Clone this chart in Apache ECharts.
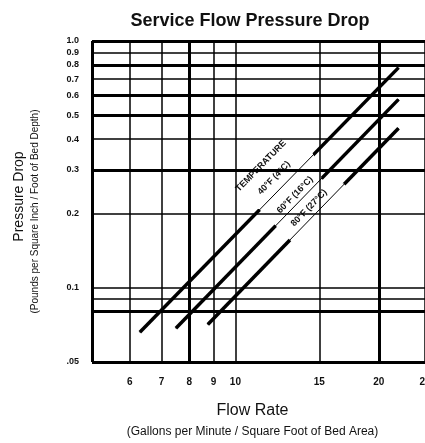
<!DOCTYPE html>
<html><head><meta charset="utf-8">
<script src="https://cdn.jsdelivr.net/npm/echarts@6/dist/echarts.min.js"></script>
<style>html,body{margin:0;padding:0;background:#fff}#c{width:425px;height:443px}</style>
</head><body><div id="c"></div>
<script>
// ---- data ----
const flowTicks = [6, 7, 8, 9, 10, 15, 20, 25];
const flowTickLabels = ['6', '7', '8', '9', '10', '15', '20', '25'];
const pressureTicks = [1.0, 0.9, 0.8, 0.7, 0.6, 0.5, 0.4, 0.3, 0.2, 0.1, 0.05];
const pressureTickLabels = ['1.0', '0.9', '0.8', '0.7', '0.6', '0.5', '0.4', '0.3', '0.2', '0.1', '.05'];
const flowGrid = [5, 6, 7, 8, 9, 10, 15, 20, 25];
const pressureGrid = [1.0, 0.9, 0.8, 0.7, 0.6, 0.5, 0.4, 0.3, 0.2, 0.1, 0.09, 0.08, 0.05];
const temp40 = [[6.3, 0.066], [22.0, 0.78]];
const temp60 = [[7.5, 0.0685], [22.0, 0.58]];
const temp80 = [[8.75, 0.071], [22.0, 0.443]];
const seriesLabels = ['TEMPERATURE', '40°F (4°C)', '60°F (16°C)', '80°F (27°C)'];

// ---- styles ----
const heavyX = new Set([5, 8, 20]);
const heavyY = new Set([1.0, 0.8, 0.6, 0.5, 0.3, 0.08, 0.05]);
const FONT = '"Liberation Sans", Arial, sans-serif';
const INK = '#111';

const chart = echarts.init(document.getElementById('c'), null, {renderer: 'canvas'});

const xLines = flowGrid.map(v => {
  const i = flowTicks.indexOf(v);
  return {
    xAxis: v,
    lineStyle: {color: '#000', type: 'solid', width: heavyX.has(v) ? 3 : 1.5},
    label: i >= 0 ? {show: true, position: 'start', formatter: flowTickLabels[i], distance: 15,
      color: INK, fontSize: 10, fontWeight: 'bold', fontFamily: FONT} : {show: false}
  };
});
const yLines = pressureGrid.map(v => {
  const i = pressureTicks.indexOf(v);
  return {
    yAxis: v,
    lineStyle: {color: '#000', type: 'solid', width: heavyY.has(v) ? 3 : 1.5},
    label: i >= 0 ? {show: true, position: 'start', formatter: pressureTickLabels[i], distance: 13,
      color: INK, fontSize: 9, fontWeight: 'bold', fontFamily: FONT} : {show: false}
  };
});

function lineSeries(data, width, z) {
  return {type: 'line', data: data, symbol: 'none', silent: true, z: z,
    lineStyle: {color: '#000', width: width, cap: 'butt'}, animation: false};
}

// white label panel, corners in rotated pixel space (s = x - y, t = x + y)
const boxST = [[30, 408], [165, 408], [165, 445], [157, 474], [143, 500], [143, 518], [160, 526],
  [160, 538], [50, 538], [50, 468], [30, 445]];
const boxPts = boxST.map(([s, t]) => [(s + t) / 2, (t - s) / 2]);
const ang = Math.atan(1.027);
const labelPos = [[261, 166], [274, 178], [295, 195], [309, 208]];

chart.setOption({
  animation: false,
  title: {text: 'Service Flow Pressure Drop', left: 245, top: 7, textAlign: 'center',
    textStyle: {fontFamily: FONT, fontSize: 18, fontWeight: 'bold', color: INK}},
  grid: {left: 92, top: 41, width: 334, height: 322, show: false},
  xAxis: {type: 'log', min: 5, max: 25, logBase: 10,
    name: '{a|Flow Rate}\n{b|(Gallons per Minute / Square Foot of Bed Area)}',
    nameLocation: 'middle', nameGap: 38,
    nameTextStyle: {fontFamily: FONT, color: INK, padding: [0, 0, 0, -12],
      rich: {a: {fontSize: 16, lineHeight: 22, fontFamily: FONT, color: INK},
             b: {fontSize: 12, lineHeight: 20, fontFamily: FONT, color: INK}}},
    axisLine: {show: false}, axisTick: {show: false}, axisLabel: {show: false}, splitLine: {show: false}},
  yAxis: {type: 'log', min: 0.05, max: 1, logBase: 10,
    name: '{a|Pressure Drop}\n{b|(Pounds per Square Inch / Foot of Bed Depth)}',
    nameLocation: 'middle', nameGap: 49, nameRotate: 90,
    nameTextStyle: {fontFamily: FONT, color: INK,
      rich: {a: {fontSize: 14, lineHeight: 16, fontFamily: FONT, color: INK, padding: [0, 0, 0, 10]},
             b: {fontSize: 10, lineHeight: 16, fontFamily: FONT, color: INK, padding: [0, 20, 0, 0]}}},
    axisLine: {show: false}, axisTick: {show: false}, axisLabel: {show: false}, splitLine: {show: false}},
  series: [
    {type: 'line', data: [], z: 1, silent: true,
      markLine: {symbol: ['none', 'none'], silent: true, animation: false, data: xLines.concat(yLines)}},
    lineSeries(temp40, 3.5, 2),
    lineSeries(temp60, 3.5, 2),
    lineSeries(temp80, 3.5, 2),
    lineSeries(temp40, 1, 4),
    lineSeries(temp60, 1, 4),
    lineSeries(temp80, 1, 4)
  ],
  graphic: [
    {type: 'polygon', z: 3, silent: true, shape: {points: boxPts}, style: {fill: '#fff'}},
    ...seriesLabels.map((t, i) => ({
      type: 'text', z: 5, x: labelPos[i][0], y: labelPos[i][1], rotation: ang,
      style: {text: t, font: 'bold 9px ' + FONT, fill: INK, align: 'center', verticalAlign: 'middle'}
    }))
  ]
});
</script></body></html>
